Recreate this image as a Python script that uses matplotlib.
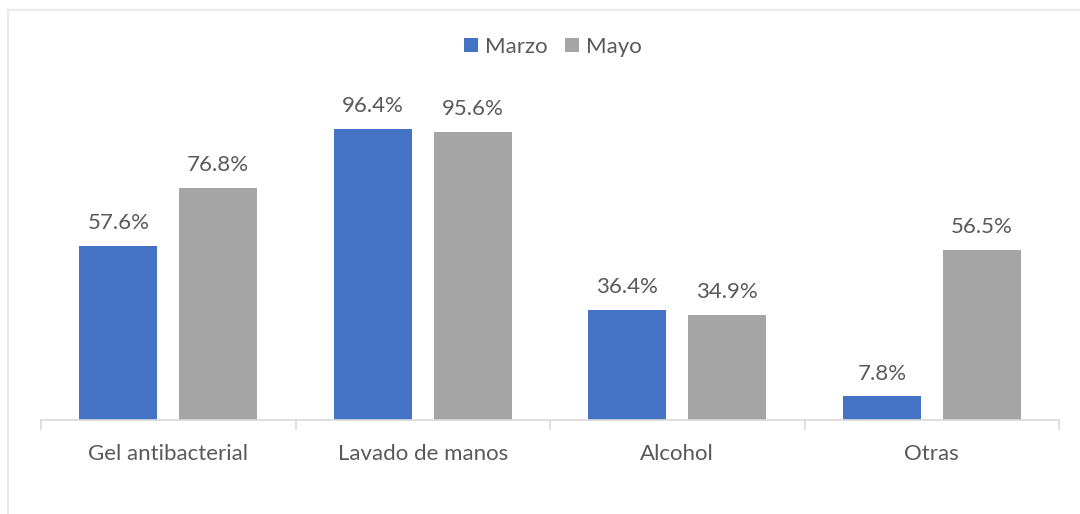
import matplotlib
matplotlib.use("Agg")
import matplotlib.pyplot as plt
from matplotlib.patches import Rectangle
import numpy as np

categories = ["Gel antibacterial", "Lavado de manos", "Alcohol", "Otras"]
marzo = [57.6, 96.4, 36.4, 7.8]
mayo = [76.8, 95.6, 34.9, 56.5]
series_names = ["Marzo", "Mayo"]
colors = ["#4472C4", "#A5A5A5"]

plt.rcParams['font.family'] = ['Lato', 'DejaVu Sans']
W, H = 1080, 514
fig = plt.figure(figsize=(W/100, H/100), dpi=100)
ax = fig.add_axes([41/W, 1-420/H, (1059-41)/W, 362/H])

x = np.arange(len(categories))
bw = 0.306
off = 0.196
b1 = ax.bar(x - off, marzo, bw, color=colors[0], label=series_names[0])
b2 = ax.bar(x + off, mayo, bw, color=colors[1], label=series_names[1])
for bars, vals in ((b1, marzo), (b2, mayo)):
    for r, v in zip(bars, vals):
        ax.text(r.get_x() + r.get_width()/2, v + 5.6, f"{v:.1f}%", ha='center', va='baseline',
                fontsize=16, color='#595959')

ax.set_xlim(-0.5, len(categories) - 0.5)
ax.set_ylim(0, 120)
ax.set_yticks([])
for s in ['top', 'right', 'left']:
    ax.spines[s].set_visible(False)
ax.spines['bottom'].set_color('#D9D9D9')
ax.spines['bottom'].set_linewidth(1.2)
ax.set_xticks(x)
ax.set_xticklabels(categories, fontsize=16, color='#595959')
ax.tick_params(axis='x', length=0, pad=17)
ax.set_xticks(np.arange(-0.5, len(categories)), minor=True)
ax.tick_params(axis='x', which='minor', length=7, color='#D9D9D9', width=1.2)

leg = fig.legend(handles=[b1, b2], labels=series_names, loc='center', bbox_to_anchor=(553/W, 1-47/H),
                 ncol=2, frameon=False, fontsize=16, handlelength=0.62, handleheight=0.62,
                 handletextpad=0.35, columnspacing=0.75)
for t in leg.get_texts():
    t.set_color('#595959')

fig.patches.append(Rectangle((8/W, -0.1), 1.2, 1.1 - 10/H, transform=fig.transFigure,
                             fill=False, edgecolor='#EBEBEB', linewidth=1.5))
fig.savefig("out.png", dpi=100)
